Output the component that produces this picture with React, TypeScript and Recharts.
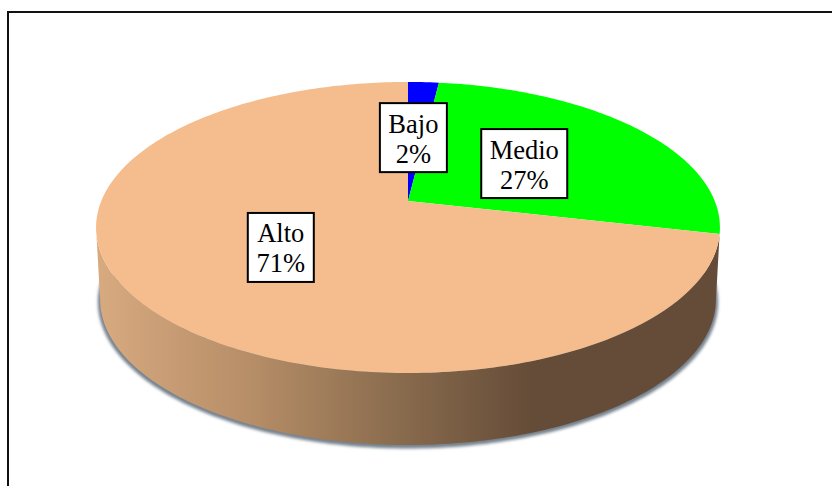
import { PieChart, Pie, Cell } from 'recharts';

const categories = ['Bajo', 'Medio', 'Alto'];
const shares = [1.9, 26.7, 71.4];
const sliceColors = ['#0000ff', '#00ff00', '#f5bd8d'];

const data = categories.map((name, i) => ({ name, value: shares[i] }));

const WIDTH = 832;
const HEIGHT = 486;
const FONT = '"Liberation Serif", "Times New Roman", serif';

// the pie is tilted in perspective, these turn a flat pie into the 3D look
const TILT = 0.182;
const STRETCH = 2.18;
const DEPTH = 72;
const BOTTOM_SCALE = 0.987;

const labelWidths: Record<string, number> = { Bajo: 67, Medio: 86, Alto: 66 };
const labelNudgeX: Record<string, number> = { Bajo: -3, Medio: -3, Alto: 0 };
const labelNudgeY: Record<string, number> = { Bajo: 1, Medio: 1, Alto: 0 };

function project(cx: number, cy: number, r: number, angle: number) {
    const rad = (angle * Math.PI) / 180;
    const u = r * Math.cos(rad);
    const v = r * Math.sin(rad);
    const w = 1 + (TILT * v) / 140.7;
    return { x: cx + (u * STRETCH) / w, y: cy - v / w };
}

function arcPoints(cx: number, cy: number, r: number, from: number, to: number, lower = false) {
    const steps = Math.max(2, Math.ceil(Math.abs(from - to)));
    const pts: string[] = [];
    for (let i = 0; i <= steps; i++) {
        const p = project(cx, cy, r, from + ((to - from) * i) / steps);
        const x = lower ? cx + (p.x - cx) * BOTTOM_SCALE : p.x;
        const y = lower ? p.y + DEPTH : p.y;
        pts.push(`${x.toFixed(2)},${y.toFixed(2)}`);
    }
    return pts;
}

function Slice(props: any) {
    const { cx, cy, outerRadius, startAngle, endAngle, fill, name } = props;
    const top = arcPoints(cx, cy, outerRadius, startAngle, endAngle);
    const isFront = name === 'Alto' || props.payload?.name === 'Alto';
    let side = null;
    if (isFront) {
        // visible wall runs from the slice edge round to the left extreme of the ellipse
        const wallEnd = -259.5 + 90;
        const upper = arcPoints(cx, cy, outerRadius, startAngle, wallEnd);
        const lower = arcPoints(cx, cy, outerRadius, wallEnd, startAngle, true);
        const shadow = arcPoints(cx, cy + 2, outerRadius + 1, 0, -180, true);
        side = (
            <>
                <polygon points={shadow.join(' ')} fill="#76828e" filter="url(#wallShadow)" />
                <polygon points={[...upper, ...lower].join(' ')} fill="url(#wallGradient)" />
            </>
        );
    }
    return (
        <g>
            {side}
            <polygon points={[`${cx},${cy}`, ...top].join(' ')} fill={fill} />
        </g>
    );
}

function SliceLabel(props: any) {
    const { cx, cy, outerRadius, midAngle, percent, name } = props;
    const p = project(cx, cy, outerRadius * 0.5, midAngle);
    const w = labelWidths[name] ?? 70;
    const h = 69;
    const x = p.x + (labelNudgeX[name] ?? 0);
    const y = p.y + (labelNudgeY[name] ?? 0);
    return (
        <g fontFamily={FONT} fontSize={26.5} fill="#000" textAnchor="middle">
            <rect x={x - w / 2} y={y - h / 2} width={w} height={h} fill="#fff" stroke="#000" strokeWidth={2} />
            <text x={x} y={y - 5}>{name}</text>
            <text x={x} y={y + 25}>{`${Math.round(percent * 100)}%`}</text>
        </g>
    );
}

export default function App() {
    return (
        <div style={{ position: 'absolute', left: 0, top: 0, width: WIDTH, height: HEIGHT, overflow: 'hidden', background: '#fff' }}>
            <div style={{ position: 'absolute', left: 7, top: 11, width: 900, height: 600, border: '2px solid #111' }} />
            <div style={{ position: 'absolute', left: 0, top: 0 }}>
                <PieChart width={WIDTH} height={HEIGHT} margin={{ top: 0, right: 0, bottom: 0, left: 0 }}>
                    <defs>
                        <linearGradient id="wallGradient" gradientUnits="userSpaceOnUse" x1="96" y1="0" x2="720" y2="0">
                            <stop offset="0%" stopColor="#d8aa80" />
                            <stop offset="26%" stopColor="#b48c66" />
                            <stop offset="48%" stopColor="#8a6c4e" />
                            <stop offset="70%" stopColor="#654c38" />
                            <stop offset="100%" stopColor="#654c38" />
                        </linearGradient>
                        <filter id="wallShadow" x="-5%" y="-5%" width="110%" height="110%">
                            <feGaussianBlur stdDeviation="1.5" />
                        </filter>
                    </defs>
                    <Pie
                        data={data}
                        dataKey="value"
                        nameKey="name"
                        cx={408}
                        cy={201}
                        outerRadius={140.7}
                        startAngle={90}
                        endAngle={-270}
                        stroke="none"
                        isAnimationActive={false}
                        labelLine={false}
                        label={SliceLabel}
                        shape={Slice}
                    >
                        {data.map((entry, index) => (
                            <Cell key={`cell-${index}`} fill={sliceColors[index]} />
                        ))}
                    </Pie>
                </PieChart>
            </div>
        </div>
    );
}
